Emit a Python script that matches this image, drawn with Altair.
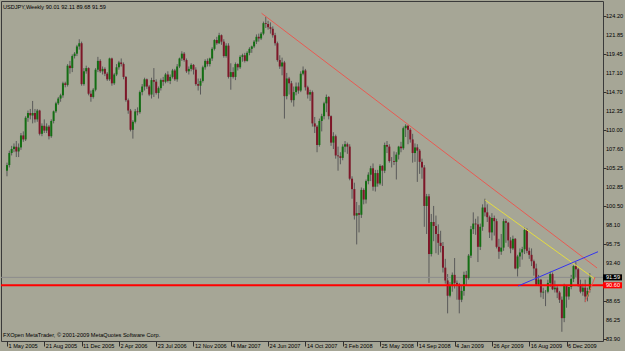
import altair as alt
import pandas as pd

# ---- weekly USDJPY candles (week index 0 = 1 May 2005) ----
open_ = [104.9,105.6,107.1,107.6,107.9,107.3,107.8,109.3,108.8,111.5,
         112.1,111.8,112.1,111.3,112.4,109.5,110.5,109.9,110.4,109.2,
         111.1,112.3,113.3,113.9,114.3,115.8,115.6,118.0,117.7,119.2,
         119.5,120.4,120.8,115.7,117.3,117.7,114.5,114.1,115.0,117.5,
         118.6,117.3,117.6,117.0,116.3,118.9,115.8,116.9,117.8,118.4,
         118.2,116.6,113.7,112.4,110.0,111.0,112.3,112.2,114.7,115.4,
         116.3,115.4,114.4,116.2,116.0,114.6,115.2,116.2,116.0,116.9,
         116.1,116.6,117.4,116.3,117.9,118.9,119.5,118.7,117.3,117.6,
         118.1,117.5,115.7,115.5,116.1,117.8,118.6,118.2,118.9,120.1,
         121.2,120.8,121.8,121.0,119.2,120.5,116.6,117.2,116.6,118.2,
         117.8,119.1,119.3,118.6,119.6,120.1,120.4,121.0,121.6,121.4,
         122.0,123.3,123.2,122.8,122.6,121.8,120.8,118.7,117.9,118.4,
         114.2,116.4,115.8,113.7,114.7,115.4,114.9,117.0,117.4,115.3,
         114.4,114.7,110.8,110.4,108.1,111.1,111.7,113.3,114.1,111.7,
         108.4,109.2,106.8,106.7,106.5,107.9,108.2,107.9,103.9,102.6,
         99.3,99.6,99.4,102.5,101.3,103.6,104.4,105.2,102.9,104.6,
         103.3,105.5,104.9,108.1,107.9,106.1,106.1,106.0,106.9,107.9,
         107.7,110.2,110.5,110.0,108.8,107.1,107.8,107.4,106.0,105.3,
         100.5,101.7,94.5,98.5,98.0,97.0,95.9,95.5,92.8,91.2,
         89.3,90.5,91.9,90.9,90.7,88.8,89.9,91.9,91.5,94.3,
         97.6,98.3,98.2,95.4,97.9,100.3,99.7,99.1,97.2,99.0,
         98.6,95.4,94.8,95.3,98.6,98.4,96.2,95.2,96.4,92.7,
         94.2,94.7,95.1,97.5,94.9,94.4,93.6,92.7,90.7,91.3,
         89.7,89.8,89.8,90.9,92.0,90.1,90.3,89.7,88.8,86.5,
         90.5,89.2,90.4,91.4,93.0,92.6,90.7,89.8,90.3,89.2,
         90.01]
high = [105.9,107.4,108.0,108.3,108.6,108.3,109.6,109.8,111.7,112.4,
        112.6,113.6,112.6,112.6,112.5,110.8,111.3,110.8,110.6,111.3,
        112.4,113.5,114.1,114.5,116.0,116.0,118.2,118.6,119.4,119.7,
        120.6,121.3,121.0,117.7,118.0,117.8,114.9,115.2,117.7,119.1,
        118.8,117.9,117.8,117.2,119.0,119.0,117.1,118.2,118.6,118.9,
        118.4,116.7,113.9,112.6,111.2,112.6,112.8,114.9,115.7,116.5,
        116.4,115.6,116.5,117.7,116.3,115.4,116.4,116.6,117.1,117.3,
        116.9,117.6,117.6,118.2,119.0,119.8,119.7,118.9,117.9,118.3,
        118.2,117.8,116.4,116.4,118.0,118.8,118.9,119.0,120.3,121.3,
        121.6,122.1,121.9,121.3,120.8,120.8,118.3,117.8,118.4,118.3,
        119.3,119.5,119.6,119.8,120.3,120.5,121.2,121.9,122.0,122.2,
        123.5,124.1,123.6,123.4,122.9,122.1,121.0,119.3,119.0,118.6,
        117.1,116.6,116.1,115.4,115.9,115.9,117.3,117.9,117.6,115.5,
        115.0,114.9,111.6,110.6,111.4,112.0,113.5,114.4,114.2,111.8,
        109.7,109.4,107.9,107.2,108.2,108.6,108.4,108.2,104.2,103.4,
        101.0,100.6,102.8,102.7,103.8,104.7,105.5,105.8,105.0,105.0,
        105.7,105.6,108.4,108.6,108.2,106.6,107.3,107.2,108.0,108.5,
        110.4,110.7,110.6,110.2,109.5,108.3,108.2,107.6,106.4,105.6,
        102.0,102.0,99.5,100.5,99.3,98.2,97.4,96.0,93.9,92.0,
        91.0,92.2,94.0,91.2,90.9,90.5,92.3,92.4,94.5,98.0,
        99.7,98.9,99.2,98.3,100.7,101.4,100.7,99.3,99.6,99.3,
        98.9,96.4,97.0,98.9,98.9,98.5,96.6,96.8,96.5,94.4,
        95.2,95.4,97.8,97.7,95.3,95.2,93.8,93.3,91.9,91.4,
        90.3,90.0,91.3,92.3,92.2,91.2,90.5,89.9,89.2,90.8,
        90.6,90.4,91.9,93.1,93.5,92.8,91.3,90.8,91.3,90.3,
        92.11]
low = [104.2,105.3,106.8,107.2,106.6,106.6,107.5,108.5,108.6,111.0,
       111.3,110.8,110.9,111.0,109.3,109.2,109.6,109.6,108.8,109.0,
       110.8,112.1,113.1,113.5,114.0,115.3,115.4,117.0,117.2,118.9,
       119.2,120.0,115.5,115.5,117.0,114.3,113.5,113.9,114.8,117.2,
       117.1,116.9,116.7,116.1,116.1,115.5,115.6,116.7,117.5,117.9,
       116.3,113.5,112.0,109.8,108.9,110.8,111.8,112.0,114.3,114.9,
       115.1,114.2,113.9,114.1,114.4,113.9,114.9,115.5,115.8,115.9,
       115.7,116.4,116.1,116.0,117.7,118.6,118.5,117.1,116.9,117.3,
       116.9,115.5,114.9,114.4,115.9,117.5,117.9,117.9,118.6,119.9,
       120.6,120.7,120.6,119.0,119.0,116.4,115.0,116.4,116.2,117.4,
       117.6,118.5,118.4,118.5,119.3,119.6,120.2,120.7,121.0,121.2,
       121.8,122.7,122.5,122.0,121.5,120.5,118.5,117.6,116.8,111.4,
       113.8,114.4,113.4,112.9,114.3,114.5,114.7,116.8,114.9,113.9,
       113.6,110.4,109.6,107.2,107.9,109.8,111.3,112.2,111.3,108.0,
       107.6,106.4,104.9,105.7,106.2,107.2,107.0,103.7,101.4,98.8,
       95.7,97.2,99.0,100.7,100.8,103.2,103.6,102.4,102.3,102.9,
       103.1,103.0,104.6,107.1,105.9,105.3,105.6,103.8,106.3,107.2,
       107.5,109.1,108.2,108.4,105.9,106.0,103.5,104.5,103.9,97.9,
       97.0,90.9,94.2,96.1,94.6,94.4,94.7,92.2,90.8,87.1,
       89.1,89.8,90.2,88.8,87.1,88.5,89.3,90.6,91.3,94.0,
       97.0,96.9,93.5,95.0,97.4,99.2,98.5,96.5,96.2,96.8,
       95.2,93.9,94.4,94.9,95.9,95.4,94.6,95.0,92.6,91.7,
       92.9,93.8,94.5,94.6,93.9,93.0,91.8,90.6,90.5,89.1,
       88.9,88.0,89.6,90.4,90.0,89.7,89.0,88.4,84.8,86.0,
       87.8,88.8,90.1,91.0,91.6,90.4,89.6,89.3,88.5,88.6,
       89.68]
close = [105.6,107.1,107.6,107.9,107.3,107.8,109.3,108.8,111.5,112.1,
         111.8,112.1,111.3,112.4,109.5,110.5,109.9,110.4,109.2,111.1,
         112.3,113.3,113.9,114.3,115.8,115.6,118.0,117.7,119.2,119.5,
         120.4,120.8,115.7,117.3,117.7,114.5,114.1,115.0,117.5,118.6,
         117.3,117.6,117.0,116.3,118.9,115.8,116.9,117.8,118.4,118.2,
         116.6,113.7,112.4,110.0,111.0,112.3,112.2,114.7,115.4,116.3,
         115.4,114.4,116.2,116.0,114.6,115.2,116.2,116.0,116.9,116.1,
         116.6,117.4,116.3,117.9,118.9,119.5,118.7,117.3,117.6,118.1,
         117.5,115.7,115.5,116.1,117.8,118.6,118.2,118.9,120.1,121.2,
         120.8,121.8,121.0,119.2,120.5,116.6,117.2,116.6,118.2,117.8,
         119.1,119.3,118.6,119.6,120.1,120.4,121.0,121.6,121.4,122.0,
         123.3,123.2,122.8,122.6,121.8,120.8,118.7,117.9,118.4,114.2,
         116.4,115.8,113.7,114.7,115.4,114.9,117.0,117.4,115.3,114.4,
         114.7,110.8,110.4,108.1,111.1,111.7,113.3,114.1,111.7,108.4,
         109.2,106.8,106.7,106.5,107.9,108.2,107.9,103.9,102.6,99.3,
         99.6,99.4,102.5,101.3,103.6,104.4,105.2,102.9,104.6,103.3,
         105.5,104.9,108.1,107.9,106.1,106.1,106.0,106.9,107.9,107.7,
         110.2,110.5,110.0,108.8,107.1,107.8,107.4,106.0,105.3,100.5,
         101.7,94.5,98.5,98.0,97.0,95.9,95.5,92.8,91.2,89.3,
         90.5,91.9,90.9,90.7,88.8,89.9,91.9,91.5,94.3,97.6,
         98.3,98.2,95.4,97.9,100.3,99.7,99.1,97.2,99.0,98.6,
         95.4,94.8,95.3,98.6,98.4,96.2,95.2,96.4,92.7,94.2,
         94.7,95.1,97.5,94.9,94.4,93.6,92.7,90.7,91.3,89.7,
         89.8,89.8,90.9,92.0,90.1,90.3,89.7,88.8,86.5,90.5,
         89.2,90.4,91.4,93.0,92.6,90.7,89.8,90.3,89.2,89.9,
         91.59]

# ---- axis ticks ----
date_ticks = [0, 16, 32, 48, 64, 80, 96, 112, 128, 144, 160, 176, 192, 208, 224, 240]
date_labels = ["1 May 2005", "21 Aug 2005", "11 Dec 2005", "2 Apr 2006", "23 Jul 2006",
               "12 Nov 2006", "4 Mar 2007", "24 Jun 2007", "14 Oct 2007", "3 Feb 2008",
               "25 May 2008", "14 Sep 2008", "4 Jan 2009", "26 Apr 2009", "16 Aug 2009",
               "6 Dec 2009"]
price_ticks = [124.20, 121.85, 119.45, 117.10, 114.70, 112.35, 110.00, 107.60, 105.25,
               102.85, 100.50, 98.10, 95.75, 93.40, 88.65, 86.25, 83.90]

# ---- trend lines (week index, price) ----
red_line_weeks = [109.2, 253.1]
red_line_prices = [124.54, 92.76]
yellow_line_weeks = [205.1, 252.2]
yellow_line_prices = [101.24, 91.38]
blue_line_weeks = [219.2, 253.5]
blue_line_prices = [90.51, 94.79]
short_line_weeks = [248.0, 252.2]
short_line_prices = [88.55, 91.60]

bid_price = 91.59
support_price = 90.60

title_text = "USDJPY,Weekly  90.01 92.11 89.68 91.59"
copyright_text = "FXOpen MetaTrader, \u00a9 2001-2009 MetaQuotes Software Corp."

FONT = "Liberation Sans"
FS = 5.6
BG = "#a6a696"

df = pd.DataFrame({"i": list(range(len(close))), "o": open_, "h": high, "l": low, "c": close})
up_df = df[df["c"] >= df["o"]]
dn_df = df[df["c"] < df["o"]]

xs = alt.Scale(domain=[-0.42, 253.5], nice=False, zero=False)
ys = alt.Scale(domain=[83.65, 126.07], nice=False, zero=False)

label_expr = "[" + ",".join("'" + s + "'" for s in date_labels) + "][round(datum.value/16)]"

x_axis = alt.Axis(values=date_ticks, labelExpr=label_expr, labelAlign="left", labelBaseline="top",
                  labelPadding=-3, tickSize=5, labelOffset=1, labelFlush=False, labelOverlap=False,
                  labelBound=False, domain=False, grid=False, title=None)
y_axis = alt.Axis(values=price_ticks, orient="right", tickSize=3, labels=False,
                  domain=False, grid=False, title=None)

X = lambda f: alt.X(f, scale=xs, title=None)
Y = lambda f: alt.Y(f, scale=ys, title=None)

wicks = alt.Chart(df).mark_rule(color="#5a5a5a", strokeWidth=1).encode(
    x=alt.X("i:Q", scale=xs, axis=x_axis),
    y=alt.Y("l:Q", scale=ys, axis=y_axis),
    y2="h:Q",
)
up_bodies = alt.Chart(up_df).mark_bar(size=2, color="#136e13").encode(
    x=X("i:Q"), y=Y("o:Q"), y2="c:Q")
dn_bodies = alt.Chart(dn_df).mark_bar(size=2, color="#7e1628").encode(
    x=X("i:Q"), y=Y("o:Q"), y2="c:Q")


def seg(weeks, prices, color):
    d = pd.DataFrame({"i": weeks, "p": prices})
    return alt.Chart(d).mark_line(color=color, strokeWidth=1).encode(x=X("i:Q"), y=Y("p:Q"))


red_line = seg(red_line_weeks, red_line_prices, "#e85a52")
yellow_line = seg(yellow_line_weeks, yellow_line_prices, "#e4dc40")
blue_line = seg(blue_line_weeks, blue_line_prices, "#3434ee")
short_line = seg(short_line_weeks, short_line_prices, "#e85a52")

# price scale labels as text on the right
ytick_df = pd.DataFrame({"p": price_ticks, "txt": ["%.2f" % v for v in price_ticks]})
ytick_txt = alt.Chart(ytick_df).mark_text(align="left", baseline="middle", font=FONT, fontSize=FS,
                                          color="#000000").encode(
    x=alt.value(605), y=Y("p:Q"), text="txt:N")

lev_df = pd.DataFrame({"p": [bid_price, support_price],
                       "txt": ["%.2f" % bid_price, "%.2f" % support_price]})
bid_df = lev_df.iloc[[0]]
sup_df = lev_df.iloc[[1]]

bid_line = alt.Chart(bid_df).mark_rule(color="#8c8c8c", strokeWidth=1).encode(y=Y("p:Q"))
sup_line = alt.Chart(sup_df).mark_rule(color="#ff0000", strokeWidth=2).encode(y=Y("p:Q"))


def price_box(d, color):
    return alt.Chart(d).transform_calculate(
        top="datum.p + 0.38", bot="datum.p - 0.38").mark_rect(color=color).encode(
        x=alt.value(602), x2=alt.value(621), y=Y("top:Q"), y2="bot:Q")


bid_box = price_box(bid_df, "#000000")
sup_box = price_box(sup_df, "#ff0000")
lbl_txt = alt.Chart(lev_df).mark_text(align="left", baseline="middle", font=FONT, fontSize=FS,
                                      color="#ffffff").encode(
    x=alt.value(605), y=Y("p:Q"), text="txt:N")

title = alt.Chart(pd.DataFrame({"t": [title_text]})).mark_text(
    align="left", baseline="alphabetic", font=FONT, fontSize=FS, color="#000000").encode(
    x=alt.value(2), y=alt.value(7.5), text="t:N")
copyright = alt.Chart(pd.DataFrame({"t": [copyright_text]})).mark_text(
    align="left", baseline="alphabetic", font=FONT, fontSize=FS, color="#000000").encode(
    x=alt.value(2), y=alt.value(336), text="t:N")

chart = alt.layer(wicks, bid_line, up_bodies, dn_bodies, sup_line, red_line, yellow_line,
                  blue_line, short_line, bid_box, sup_box, lbl_txt, ytick_txt, title,
                  copyright).properties(
    width=602, height=340,
    padding={"left": 1, "top": 1, "right": 22, "bottom": 10},
    autosize=alt.AutoSizeParams(type="none"),
    background=BG,
).configure_view(fill=BG, stroke="#3a3a3a", strokeWidth=1).configure_axis(
    labelFont=FONT, labelFontSize=FS, labelColor="#000000", tickColor="#303030",
    grid=False, domain=False,
)

chart.save("out.html", embed_options={"renderer": "svg", "actions": False})
